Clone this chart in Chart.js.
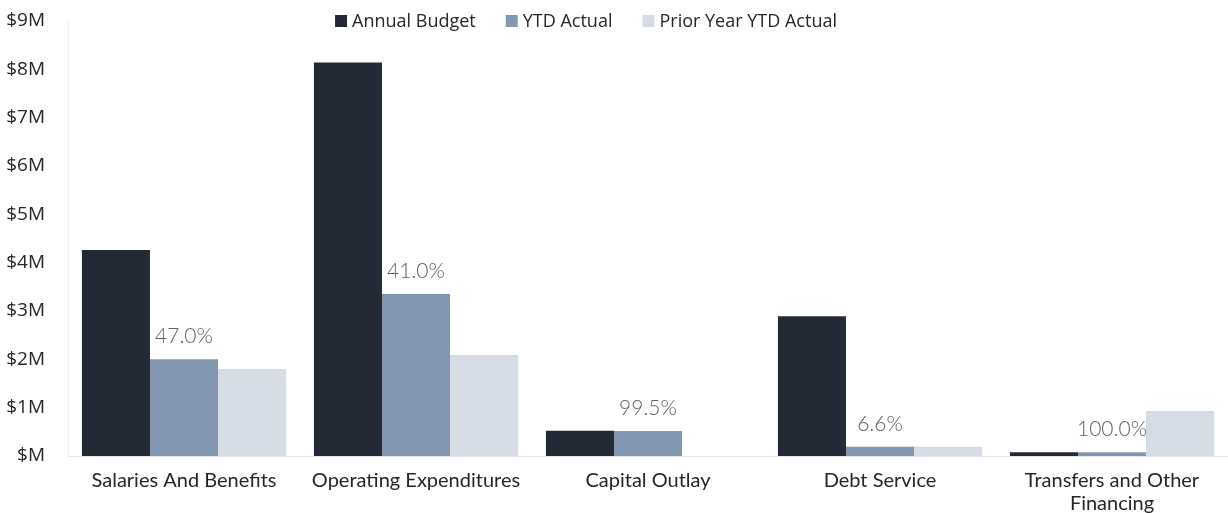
<!DOCTYPE html>
<html>
<head>
<meta charset="utf-8">
<script src="https://cdn.jsdelivr.net/npm/chart.js@4.4.0/dist/chart.umd.min.js"></script>
<style>
    html, body { margin: 0; padding: 0; background: #fff; }
    #wrap { width: 1228px; height: 513px; }
</style>
</head>
<body>
<div id="wrap"><canvas id="budget-chart"></canvas></div>
<script>
// Chart data (values in dollars)
const categories = ['Salaries And Benefits', 'Operating Expenditures', 'Capital Outlay', 'Debt Service', ['Transfers and Other', 'Financing']];
const annualBudget = [4260000, 8140000, 520000, 2890000, 80000];
const ytdActual = [2000000, 3350000, 515000, 190000, 80000];
const priorYearYtd = [1800000, 2090000, 0, 190000, 930000];
const pctLabels = ['47.0%', '41.0%', '99.5%', '6.6%', '100.0%'];

// Draws the percent labels over the YTD bars
const pctPlugin = {
    id: 'pctLabels',
    afterDatasetsDraw(chart) {
        const ctx = chart.ctx;
        const meta = chart.getDatasetMeta(1);
        ctx.save();
        ctx.font = '300 21px Lato';
        ctx.fillStyle = '#5f5f5f';
        ctx.textAlign = 'center';
        ctx.textBaseline = 'middle';
        meta.data.forEach((bar, i) => {
            ctx.fillText(pctLabels[i], bar.x, bar.y - 23);
        });
        ctx.restore();
    }
};

// Legend drawn on top of the plot area, like the original
const topLegend = {
    id: 'topLegend',
    afterDraw(chart) {
        const ctx = chart.ctx;
        ctx.save();
        ctx.font = '18px "Open Sans"';
        ctx.textBaseline = 'middle';
        const box = 12, gap = 5, spacing = 30;
        const items = chart.data.datasets.map(ds => ({ text: ds.label, color: ds.backgroundColor }));
        let total = 0;
        items.forEach((it, i) => {
            it.w = box + gap + ctx.measureText(it.text).width;
            total += it.w + (i ? spacing : 0);
        });
        let x = 586 - total / 2;
        const y = 21;
        items.forEach(it => {
            ctx.fillStyle = it.color;
            ctx.fillRect(x, y - box / 2, box, box);
            ctx.fillStyle = '#262626';
            ctx.fillText(it.text, x + box + gap, y + 1);
            x += it.w + spacing;
        });
        ctx.restore();
    }
};

const ctx = document.getElementById('budget-chart').getContext('2d');
new Chart(ctx, {
    type: 'bar',
    data: {
        labels: categories,
        datasets: [{
            label: 'Annual Budget',
            data: annualBudget,
            backgroundColor: '#242a35'
        }, {
            label: 'YTD Actual',
            data: ytdActual,
            backgroundColor: '#8497b0'
        }, {
            label: 'Prior Year YTD Actual',
            data: priorYearYtd,
            backgroundColor: '#d6dce5'
        }]
    },
    options: {
        responsive: true,
        maintainAspectRatio: false,
        animation: false,
        layout: { padding: 0 },
        datasets: {
            bar: { barPercentage: 1, categoryPercentage: 0.88 }
        },
        plugins: {
            legend: { display: false },
            tooltip: { enabled: false }
        },
        scales: {
            x: {
                grid: { display: false, drawTicks: false },
                border: { color: '#e6e6e6' },
                ticks: {
                    color: '#262626',
                    padding: 13,
                    maxRotation: 0,
                    font: { family: 'Lato', size: 20, lineHeight: 1.15 }
                },
                afterFit(scale) {
                    // keep the long category names from pushing the plot inwards
                    scale.paddingLeft = 0;
                    scale.paddingRight = 0;
                    scale.height = 57;
                }
            },
            y: {
                min: 0,
                max: 9000000,
                grid: { display: false, drawTicks: false },
                border: { color: '#eeeeee' },
                ticks: {
                    stepSize: 1000000,
                    color: '#262626',
                    padding: 23,
                    font: { family: 'Open Sans', size: 19 },
                    callback: v => v === 0 ? '$M' : '$' + (v / 1000000) + 'M'
                },
                afterFit(scale) {
                    scale.width = 68;
                    scale.paddingTop = 21;
                    scale.paddingBottom = 0;
                }
            }
        }
    },
    plugins: [pctPlugin, topLegend]
});
</script>
</body>
</html>
